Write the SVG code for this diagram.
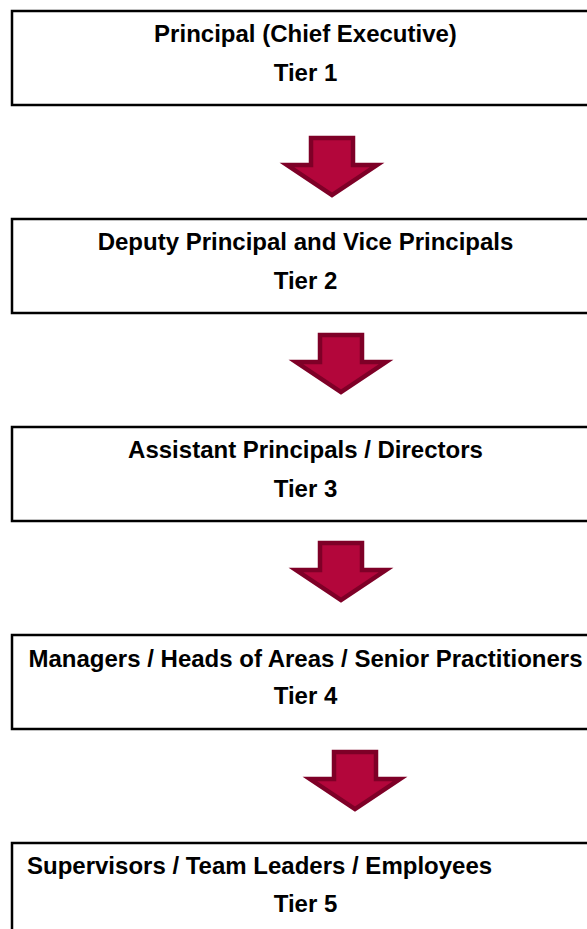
<svg xmlns="http://www.w3.org/2000/svg" width="587" height="929" viewBox="0 0 587 929">
<style>
.box{fill:#fff;stroke:#000;stroke-width:2.5}
.t{font-family:"Liberation Sans",Arial,sans-serif;font-weight:bold;font-size:24px;fill:#000;text-anchor:middle}
.arr{fill:#B3063B;stroke:#7E0027;stroke-width:4.5;stroke-linejoin:miter}
</style>
<defs>
<path id="arrow" d="M-21,0 H21 V27 H45 L0,57 L-45,27 H-21 Z"/>
</defs>
<rect width="587" height="929" fill="#fff"/>
<g id="connectors">
<use href="#arrow" class="arr" transform="translate(332,138)"/>
<use href="#arrow" class="arr" transform="translate(341,335)"/>
<use href="#arrow" class="arr" transform="translate(341,543)"/>
<use href="#arrow" class="arr" transform="translate(355,752)"/>
</g>
<g id="tier1">
<rect class="box" x="12" y="11" width="587" height="94"/>
<text class="t" x="305.5" y="42">Principal (Chief Executive)</text>
<text class="t" x="305.5" y="81">Tier 1</text>
</g>
<g id="tier2">
<rect class="box" x="12" y="219" width="587" height="94"/>
<text class="t" x="305.5" y="250">Deputy Principal and Vice Principals</text>
<text class="t" x="305.5" y="289">Tier 2</text>
</g>
<g id="tier3">
<rect class="box" x="12" y="427" width="587" height="94"/>
<text class="t" x="305.5" y="458">Assistant Principals / Directors</text>
<text class="t" x="305.5" y="497">Tier 3</text>
</g>
<g id="tier4">
<rect class="box" x="12" y="635" width="587" height="94"/>
<text class="t" x="305.5" y="667">Managers / Heads of Areas / Senior Practitioners</text>
<text class="t" x="305.5" y="704">Tier 4</text>
</g>
<g id="tier5">
<rect class="box" x="12" y="843" width="587" height="94"/>
<text class="t" x="27" y="874" style="text-anchor:start">Supervisors / Team Leaders / Employees</text>
<text class="t" x="305.5" y="912">Tier 5</text>
</g>
</svg>
